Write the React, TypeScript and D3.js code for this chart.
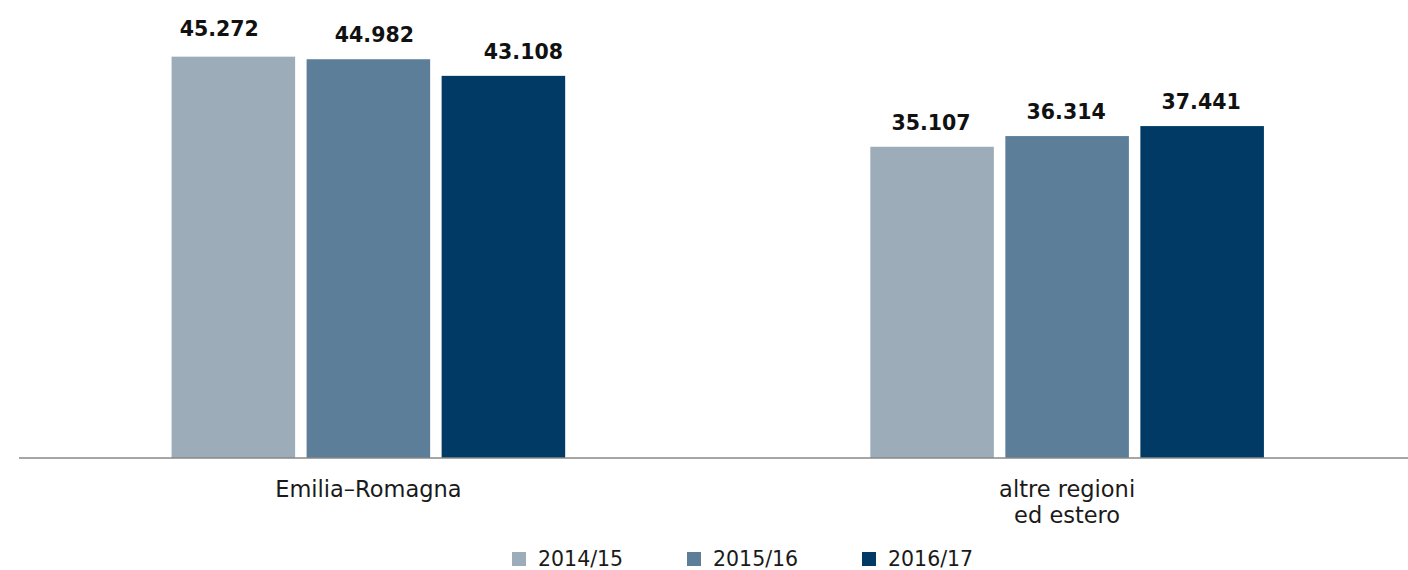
import React, { useEffect } from "react";
import * as d3 from "d3";

const categories = ["Emilia–Romagna", "altre regioni\ned estero"];
const seriesNames = ["2014/15", "2015/16", "2016/17"];
const values2014 = [45272, 35107];
const values2015 = [44982, 36314];
const values2016 = [43108, 37441];
const seriesValues = [values2014, values2015, values2016];

const colors = ["#9CADB9", "#5D7E99", "#013A64"];
// small manual nudges of the value labels (as in the original)
const labelDx = [
  [-14, 6, 20],
  [-1, -1, -1],
];
const labelDy = [
  [-4, 0, 0],
  [0, 0, 0],
];

const W = 1408;
const H = 570;
const FONT = "'DejaVu Sans', sans-serif";

export default function App() {
  useEffect(() => {
    document.body.style.margin = "0";
  }, []);

  const x0 = d3.scaleBand<string>().domain(categories).range([19, 1416.5]).paddingInner(0).paddingOuter(0);
  const x1 = d3
    .scaleBand<string>()
    .domain(seriesNames)
    .range([0, x0.bandwidth()])
    .paddingInner(0.085)
    .paddingOuter(1.13);
  const y = d3.scaleLinear().domain([0, 50000]).range([458, 14.75]);
  const fmt = (v: number) => d3.format(",")(v).replace(/,/g, ".");

  const legendX = d3.scalePoint<string>().domain(seriesNames).range([512, 862]);

  return (
    <svg width={W} height={H} style={{ display: "block", background: "#fff" }} fontFamily={FONT}>
      {categories.map((cat, ci) => (
        <g key={cat} transform={`translate(${x0(cat)},0)`}>
          {seriesNames.map((s, si) => {
            const v = seriesValues[si][ci];
            const bx = x1(s)!;
            const bw = x1.bandwidth();
            return (
              <g key={s}>
                <rect x={bx} y={y(v)} width={bw} height={y(0) - y(v)} fill={colors[si]} />
                <text
                  x={bx + bw / 2 + labelDx[ci][si]}
                  y={y(v) - 17 + labelDy[ci][si]}
                  textAnchor="middle"
                  fontWeight="bold"
                  fontSize={20.5}
                  fill="#111"
                >
                  {fmt(v)}
                </text>
              </g>
            );
          })}
          {cat.split("\n").map((line, li) => (
            <text
              key={li}
              x={x0.bandwidth() / 2}
              y={496.5 + li * 26.5}
              textAnchor="middle"
              fontSize={22.5}
              fill="#1a1a1a"
            >
              {line}
            </text>
          ))}
        </g>
      ))}
      <line x1={19} x2={W} y1={458} y2={458} stroke="#898989" strokeWidth={1.6} />
      {seriesNames.map((s, si) => (
        <g key={s} transform={`translate(${legendX(s)},0)`}>
          <rect x={0} y={552} width={14} height={14} fill={colors[si]} />
          <text x={26} y={565.5} fontSize={20.5} fill="#1a1a1a">
            {s}
          </text>
        </g>
      ))}
    </svg>
  );
}
